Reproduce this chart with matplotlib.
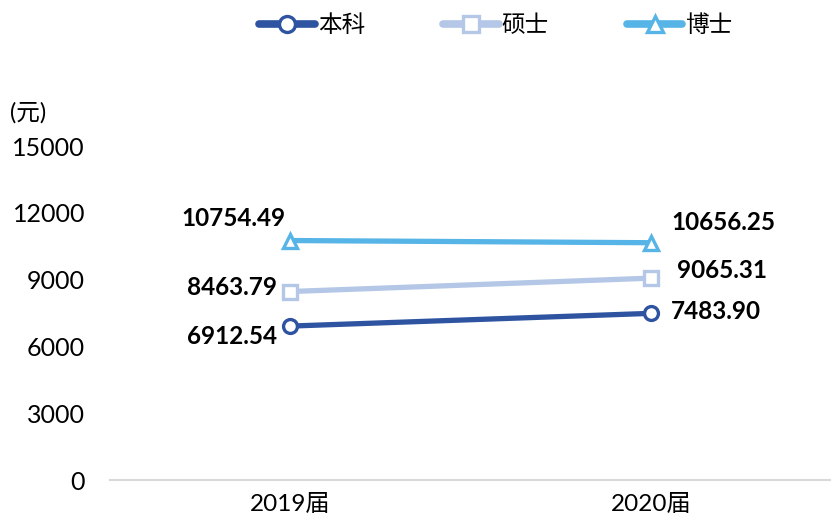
import matplotlib
matplotlib.use("Agg")
import matplotlib.pyplot as plt

plt.rcParams['font.family'] = ['Lato', 'Noto Sans CJK SC', 'DejaVu Sans']

categories = ['2019届', '2020届']
series_names = ['本科', '硕士', '博士']
bachelor = [6912.54, 7483.90]
master = [8463.79, 9065.31]
doctor = [10754.49, 10656.25]
yticks = [0, 3000, 6000, 9000, 12000, 15000]

colors = ['#2E54A1', '#B4C7E7', '#56B4E6']
markers = ['o', 's', '^']
data = [bachelor, master, doctor]

# label offsets in pixels for each series (2019, 2020)
offsets = [
    [(-58, -10), (65, 2)],
    [(-58, 4), (71, 8)],
    [(-57, 22), (73, 20)],
]

fig = plt.figure(figsize=(8.31, 5.29), dpi=100)
ax = fig.add_axes([110/831, 49/529, 1 - 110/831, (480-146)/529])

x = [0, 1]
handles = []
for vals, c, m, name, offs in zip(data, colors, markers, series_names, offsets):
    h, = ax.plot(x, vals, color=c, lw=3.8, marker=m, markersize=10,
                 markerfacecolor='white', markeredgecolor=c, markeredgewidth=2.4,
                 label=name, solid_capstyle='round', zorder=3)
    handles.append(h)
    for xi, v, (dx, dy) in zip(x, vals, offs):
        ax.annotate(f'{v:.2f}', (xi, v), xytext=(dx, dy), textcoords='offset pixels',
                    ha='center', va='center', fontsize=17.5, fontweight='bold', color='black')

ax.set_xlim(-0.5, 1.5)
ax.set_ylim(0, 15000)
ax.set_yticks(yticks)
ax.set_yticklabels([str(t) for t in yticks], fontsize=18)
ax.set_xticks(x)
ax.set_xticklabels(categories, fontsize=17.5)
ax.tick_params(axis='both', length=0)
ax.tick_params(axis='x', pad=10)
ax.tick_params(axis='y', pad=18)
for s in ['top', 'right', 'left']:
    ax.spines[s].set_visible(False)
ax.spines['bottom'].set_color('#D9D9D9')
ax.spines['bottom'].set_linewidth(1.5)

fig.text(10/831, 1 - 113/529, '(元)', fontsize=17, va='center', ha='left')

leg = fig.legend(handles=handles, loc='center', bbox_to_anchor=(496/831, 1 - 25/529),
                 ncol=3, frameon=False, fontsize=17, handlelength=2.35,
                 columnspacing=3.3, handletextpad=0.13, markerscale=1.15)
for lh in leg.get_lines():
    lh.set_linewidth(5.5)

fig.savefig('out.png', dpi=100)
